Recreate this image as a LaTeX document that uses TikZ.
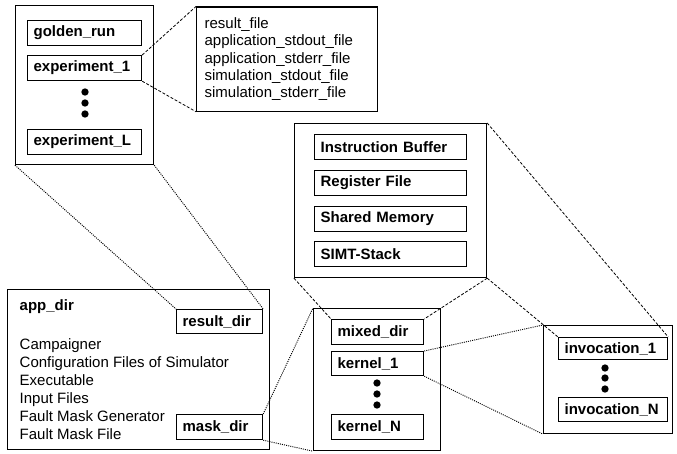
\documentclass[tikz,border=0pt]{standalone}
\usepackage{fontspec}
\setmainfont{Liberation Sans}
\begin{document}
\begin{tikzpicture}[x=0.75pt,y=-0.75pt,
  every node/.style={font=\fontsize{11.25}{13.1}\selectfont},
  frame/.style={draw, line width=0.9pt, inner sep=0pt, anchor=north west},
  tag/.style={draw, line width=0.9pt, anchor=north west, align=left,
    inner xsep=4.5pt, inner ysep=0pt,
    font=\fontsize{11.25}{13.1}\selectfont\bfseries},
  dashlink/.style={line width=0.6pt, dash pattern=on 2.2pt off 1.3pt},
  dotlink/.style={line width=0.7pt, dash pattern=on 0.75pt off 0.85pt},
  dot/.style={circle, fill, inner sep=0pt, minimum size=5.5pt}]
\useasboundingbox (0,0) rectangle (677,453);

% experiment directory
\node[frame, minimum width=103.5pt, minimum height=119.25pt] (expdir) at (15,5) {};
\node[tag, text width=76.5pt, minimum height=18.75pt] (golden) at (27,20) {golden\_run};
\node[tag, text width=76.5pt, minimum height=18.75pt] (exp1) at (27,55) {experiment\_1};
\node[dot] (ed1) at (85,92) {};
\node[dot] (ed2) at (85,103) {};
\node[dot] (ed3) at (85,114) {};
\node[tag, text width=76.5pt, minimum height=18.75pt] (expL) at (27,129) {experiment\_L};

% files of one experiment
\node[frame, inner xsep=6pt, text width=123.75pt, minimum height=78pt, align=left] (files) at (196,6.5)
  {result\_file\\application\_stdout\_file\\application\_stderr\_file\\simulation\_stdout\_file\\simulation\_stderr\_file};

% simulator state
\node[frame, minimum width=144pt, minimum height=115.5pt] (state) at (294,123) {};
\node[tag, text width=105pt, minimum height=18.75pt] (ibuf) at (314,134) {Instruction Buffer};
\node[tag, text width=105pt, minimum height=18.75pt] (regf) at (314,170) {Register File};
\node[tag, text width=105pt, minimum height=18.75pt] (smem) at (314,206) {Shared Memory};
\node[tag, text width=105pt, minimum height=18.75pt] (simt) at (314,241) {SIMT-Stack};

% application directory
\node[frame, minimum width=196.5pt, minimum height=120pt] (app) at (7,289) {};
\node[anchor=west, font=\fontsize{11.25}{13.1}\selectfont\bfseries] (apptitle) at (15,307) {app\_dir};
\node[anchor=west, align=left, font=\fontsize{11.25}{13.5}\selectfont] (applist) at (15,389)
  {Campaigner\\Configuration Files of Simulator\\Executable\\Input Files\\Fault Mask Generator\\Fault Mask File};
\node[tag, text width=55.5pt, minimum height=18pt] (resdir) at (176,309) {result\_dir};
\node[tag, text width=55.5pt, minimum height=18.75pt] (maskdir) at (176,414) {mask\_dir};

% kernel directory
\node[frame, minimum width=95.25pt, minimum height=106.5pt] (kdir) at (313,308) {};
\node[tag, text width=60pt, minimum height=18.75pt] (mixed) at (331,319) {mixed\_dir};
\node[tag, text width=60pt, minimum height=18pt] (k1) at (331,351) {kernel\_1};
\node[dot] (kd1) at (377,383) {};
\node[dot] (kd2) at (377,394) {};
\node[dot] (kd3) at (377,405) {};
\node[tag, text width=60pt, minimum height=18.75pt] (kN) at (331,414) {kernel\_N};

% invocation directory
\node[frame, minimum width=96.75pt, minimum height=81pt] (inv) at (543,325) {};
\node[tag, text width=72.75pt, minimum height=16.5pt] (inv1) at (558,337) {invocation\_1};
\node[dot] (id1) at (605,368) {};
\node[dot] (id2) at (605,378) {};
\node[dot] (id3) at (605,389) {};
\node[tag, text width=72.75pt, minimum height=18pt] (invN) at (558,397) {invocation\_N};

% zoom connectors
\draw[dashlink] (exp1.north east) -- (files.north west);
\draw[dashlink] (exp1.south east) -- (files.south west);
\draw[dotlink] (expdir.south west) -- (resdir.north west);
\draw[dotlink] (expdir.south east) -- (resdir.north east);
\draw[dotlink] (maskdir.north east) -- (kdir.north west);
\draw[dotlink] (maskdir.south east) -- (kdir.south west);
\draw[dashlink] (state.south west) -- (mixed.north west);
\draw[dashlink] (state.south east) -- (mixed.north east);
\draw[dashlink] (state.north east) -- (inv1.north east);
\draw[dashlink] (state.south east) -- (inv1.north west);
\draw[dotlink] (k1.north east) -- (inv.north west);
\draw[dotlink] (k1.south east) -- (inv.south west);
\end{tikzpicture}
\end{document}
